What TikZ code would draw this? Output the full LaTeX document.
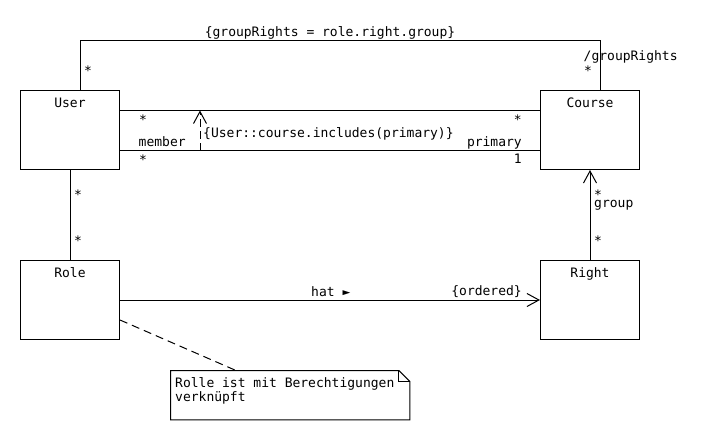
\documentclass[tikz,border=0pt]{standalone}
\usepackage{fontspec}
\setmainfont{DejaVu Sans Mono}
\usetikzlibrary{arrows.meta}

\tikzset{
  cls/.style={draw,line width=1pt,minimum width=99pt,minimum height=79pt,inner sep=0pt},
  clsname/.style={anchor=base,yshift=-17pt,inner sep=0pt},
  mult/.style={anchor=base west,inner sep=0pt},
  multr/.style={anchor=base east,inner sep=0pt},
  assoc/.style={line width=1pt},
  nav/.style={line width=1pt,-{Straight Barb[length=12pt,width=13pt]}},
  dep/.style={line width=1pt,dash pattern=on 8pt off 4pt,-{Straight Barb[length=12pt,width=13pt]}},
  noteline/.style={line width=1pt,dash pattern=on 8pt off 5pt},
  notebox/.style={anchor=north west,minimum width=239pt,minimum height=49pt,inner sep=0pt},
  notetext/.style={anchor=base west,inner sep=0pt},
}

\begin{document}
\begin{tikzpicture}[x=1pt,y=-1pt,font=\fontsize{13pt}{14.5pt}\selectfont]
\useasboundingbox (0,0) rectangle (710,440);

% classes
\node[cls,label={[clsname]north:User}] (user) at (70,130) {};
\node[cls,label={[clsname]north:Course}] (course) at (590,130) {};
\node[cls,label={[clsname]north:Role}] (role) at (70,300) {};
\node[cls,label={[clsname]north:Right}] (right) at (590,300) {};

% note
\node[notebox] (note) at (170.5,370.5) {};
\draw[line width=1pt] (note.north west) -- ([xshift=-11pt]note.north east)
  -- ([yshift=-11pt]note.north east) -- (note.south east) -- (note.south west) -- cycle;
\draw[line width=1pt] ([xshift=-11pt]note.north east) |- ([yshift=-11pt]note.north east);
\node[notetext] (ntxt1) at (175,387) {Rolle ist mit Berechtigungen};
\node[notetext] (ntxt2) at (175,401.5) {verknüpft};

% derived association
\draw[assoc] ([xshift=10pt]user.north) -- ++(0,-50) -| ([xshift=10pt]course.north);
\node[anchor=base] (grc) at (330,36) {\{groupRights = role.right.group\}};
\node[mult] (m1) at (84,75) {*};
\node[mult] (grr) at (583.5,60) {/groupRights};
\node[mult] (m2) at (584,75) {*};

% User - Course
\draw[assoc] ([yshift=-20pt]user.north east) -- ([yshift=-20pt]course.north west);
\draw[assoc] ([yshift=20pt]user.south east) -- ([yshift=20pt]course.south west);
\node[mult] (m3) at (139,124) {*};
\node[multr] (m4) at (522,124) {*};
\node[mult] (mem) at (138.5,146) {member};
\node[mult] (m5) at (139,164) {*};
\node[multr] (prim) at (522,146) {primary};
\node[multr] (m6) at (522,163) {1};

% subset constraint
\coordinate (dbot) at (200,150.5);
\coordinate (dtop) at (200,110.5);
\draw[dep] (dbot) -- (dtop);
\node[mult] (inc) at (203,137) {\{User::course.includes(primary)\}};

% User - Role
\draw[assoc] (user) -- (role);
\node[mult] (m7) at (74,199) {*};
\node[mult] (m8) at (74,245) {*};

% Right -> Course
\draw[nav] (right) -- (course);
\node[mult] (m9) at (594,199) {*};
\node[mult] (grp) at (594,207) {group};
\node[mult] (m10) at (594,245) {*};

% Role -> Right
\draw[nav] (role) -- (right);
\node[mult] (hat) at (311,296) {hat ►};
\node[multr] (ord) at (522,295) {\{ordered\}};

% note anchor
\draw[noteline] ([yshift=-20pt]role.east) -- (note.north -| 236,0);

\end{tikzpicture}
\end{document}
